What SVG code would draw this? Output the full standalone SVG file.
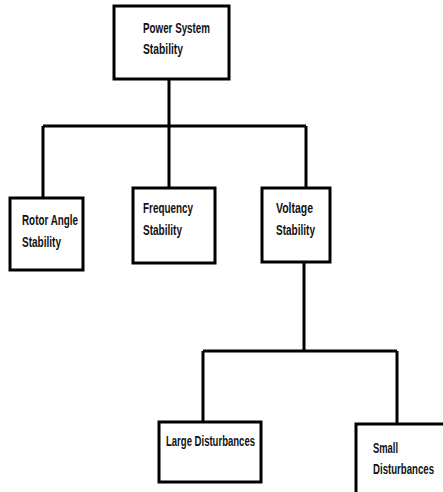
<svg xmlns="http://www.w3.org/2000/svg" width="443" height="492" viewBox="0 0 443 492">
<style>
.box{fill:#fff;stroke:#000;stroke-width:3}
.ln{fill:none;stroke:#000;stroke-width:3}
text{font-family:"Liberation Sans",Arial,sans-serif;font-size:15px;font-weight:bold;fill:#111}
</style>
<rect width="443" height="492" fill="#fff"/>
<g id="connectors">
<path class="ln" d="M169 79V126M43 126H306M43 126V198M169 126V188M306 126V188"/>
<path class="ln" d="M304 262V351M203 351H397M203 351V422M397 351V424"/>
</g>
<g id="power"><rect class="box" x="114" y="6" width="115" height="73"/>
<text x="143" y="33" textLength="67" lengthAdjust="spacingAndGlyphs">Power System</text>
<text x="143" y="54" textLength="40" lengthAdjust="spacingAndGlyphs">Stability</text></g>
<g id="rotor"><rect class="box" x="10" y="198" width="73" height="72"/>
<text x="22" y="225" textLength="56" lengthAdjust="spacingAndGlyphs">Rotor Angle</text>
<text x="22" y="247" textLength="39" lengthAdjust="spacingAndGlyphs">Stability</text></g>
<g id="frequency"><rect class="box" x="133" y="188" width="82" height="75"/>
<text x="143" y="213" textLength="50" lengthAdjust="spacingAndGlyphs">Frequency</text>
<text x="143" y="235" textLength="39" lengthAdjust="spacingAndGlyphs">Stability</text></g>
<g id="voltage"><rect class="box" x="262" y="188" width="68" height="74"/>
<text x="276" y="213" textLength="37" lengthAdjust="spacingAndGlyphs">Voltage</text>
<text x="276" y="235" textLength="39" lengthAdjust="spacingAndGlyphs">Stability</text></g>
<g id="large"><rect class="box" x="159" y="422" width="102" height="60"/>
<text x="166" y="446" textLength="89" lengthAdjust="spacingAndGlyphs">Large Disturbances</text></g>
<g id="small"><rect class="box" x="356" y="424" width="100" height="80"/>
<text x="373" y="453" textLength="25" lengthAdjust="spacingAndGlyphs">Small</text>
<text x="373" y="474" textLength="61" lengthAdjust="spacingAndGlyphs">Disturbances</text></g>
</svg>
